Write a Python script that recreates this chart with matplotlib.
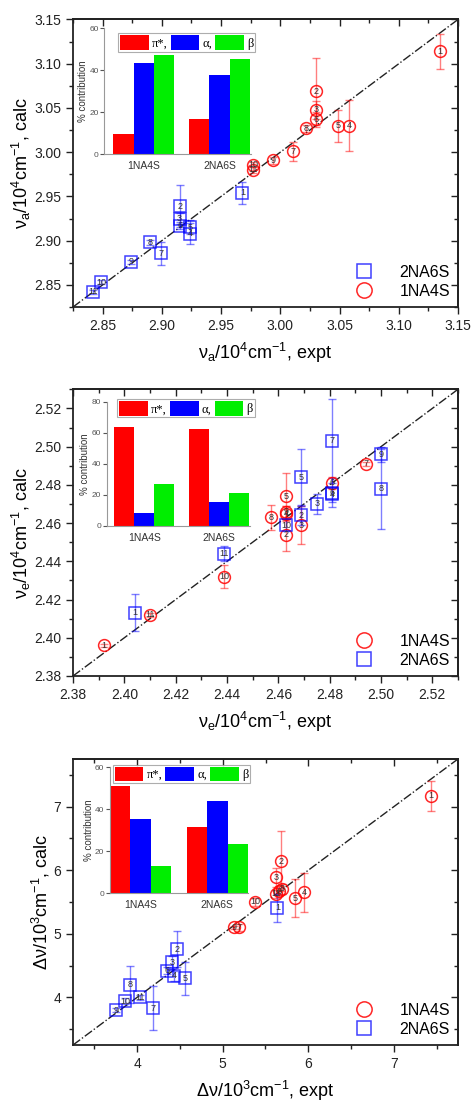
import numpy as np
import matplotlib
matplotlib.use('Agg')
import matplotlib.pyplot as plt
from matplotlib.ticker import MultipleLocator, FormatStrFormatter
from matplotlib.lines import Line2D

plt.rcParams['font.family'] = ['Liberation Sans', 'DejaVu Sans']
plt.rcParams['mathtext.default'] = 'regular'

# --- panel a: nu_a (10^4 cm-1) ---
a_4s_lbl = [1, 2, 3, 4, 5, 6, 7, 8, 9, 10, 11]
a_4s_x = [3.135, 3.030, 3.030, 3.058, 3.049, 3.030, 3.011, 3.022, 2.994, 2.977, 2.977]
a_4s_y = [3.114, 3.069, 3.048, 3.030, 3.030, 3.037, 3.001, 3.027, 2.991, 2.986, 2.980]
a_4s_err = [0.020, 0.038, 0.010, 0.029, 0.018, 0.008, 0.011, 0.004, 0.004, 0.003, 0.003]
a_6s_lbl = [1, 2, 3, 4, 5, 6, 7, 8, 9, 10, 11]
a_6s_x = [2.968, 2.915, 2.915, 2.924, 2.924, 2.915, 2.899, 2.890, 2.874, 2.849, 2.842]
a_6s_y = [2.954, 2.939, 2.925, 2.908, 2.915, 2.917, 2.886, 2.898, 2.876, 2.853, 2.842]
a_6s_err = [0.0125, 0.024, 0.006, 0.012, 0.008, 0.004, 0.013, 0.003, 0.002, 0.002, 0.002]

# --- panel b: nu_e (10^4 cm-1) ---
e_4s_lbl = [1, 2, 3, 4, 5, 6, 7, 8, 9, 10, 11]
e_4s_x = [2.392, 2.463, 2.469, 2.463, 2.463, 2.481, 2.494, 2.457, 2.463, 2.439, 2.410]
e_4s_y = [2.396, 2.454, 2.459, 2.465, 2.474, 2.481, 2.491, 2.463, 2.466, 2.432, 2.412]
e_4s_err = [0.001, 0.0084, 0.0097, 0.004, 0.012, 0.003, 0.001, 0.0066, 0.003, 0.006, 0.001]
e_6s_lbl = [1, 2, 3, 4, 5, 6, 7, 8, 9, 10, 11]
e_6s_x = [2.404, 2.469, 2.475, 2.481, 2.469, 2.481, 2.481, 2.500, 2.500, 2.463, 2.439]
e_6s_y = [2.413, 2.464, 2.470, 2.475, 2.484, 2.476, 2.503, 2.478, 2.496, 2.459, 2.444]
e_6s_err = [0.0097, 0.005, 0.005, 0.004, 0.0146, 0.0075, 0.022, 0.021, 0.004, 0.003, 0.004]

# --- panel c: delta nu (10^3 cm-1) ---
d_4s_lbl = [1, 2, 3, 4, 5, 6, 7, 8, 9, 10, 11]
d_4s_x = [7.43, 5.68, 5.62, 5.95, 5.85, 5.66, 5.19, 5.69, 5.13, 5.38, 5.62]
d_4s_y = [7.17, 6.14, 5.89, 5.65, 5.56, 5.67, 5.10, 5.71, 5.10, 5.50, 5.63]
d_4s_err = [0.24, 0.47, 0.15, 0.30, 0.30, 0.08, 0.05, 0.08, 0.03, 0.07, 0.06]
d_6s_lbl = [1, 2, 3, 4, 5, 6, 7, 8, 9, 10, 11]
d_6s_x = [5.64, 4.47, 4.41, 4.43, 4.56, 4.35, 4.19, 3.92, 3.75, 3.86, 4.03]
d_6s_y = [5.41, 4.76, 4.55, 4.34, 4.30, 4.42, 3.83, 4.20, 3.80, 3.94, 4.00]
d_6s_err = [0.22, 0.29, 0.10, 0.08, 0.26, 0.05, 0.35, 0.29, 0.03, 0.05, 0.04]

# --- inset bars: % contribution ---
groups = ['1NA4S', '2NA6S']
a_pi = [9.4, 16.7]
a_alpha = [43.3, 37.7]
a_beta = [47.1, 45.4]
e_pi = [63.7, 62.4]
e_alpha = [8.6, 15.5]
e_beta = [27.0, 21.5]
d_pi = [51.1, 31.7]
d_alpha = [35.4, 44.1]
d_beta = [13.2, 23.3]

W, H = 472, 1104
fig = plt.figure(figsize=(W / 100, H / 100), dpi=100)


def fr(l, t, r, b):
    return [l / W, 1 - b / H, (r - l) / W, (b - t) / H]


def series(ax, x, y, err, lbl, kind):
    if kind == 'c':
        ax.errorbar(x, y, yerr=err, fmt='none', ecolor=(1, 0, 0, 0.5), elinewidth=1, capsize=3, capthick=1, zorder=2)
        ax.plot(x, y, 'o', mfc='none', mec=(1, 0, 0, 0.85), ms=8.5, mew=1.1, zorder=3)
    else:
        ax.errorbar(x, y, yerr=err, fmt='none', ecolor=(0, 0, 1, 0.5), elinewidth=1, capsize=3, capthick=1, zorder=2)
        ax.plot(x, y, 's', mfc='none', mec=(0, 0, 1, 0.75), ms=8, mew=1.1, zorder=3)
    for xi, yi, li in zip(x, y, lbl):
        ax.text(xi, yi, str(li), ha='center', va='center', fontsize=6.5, color='#333333', zorder=4)


def main_axes(rect, lim, major, minor, fmt, xlab, ylab):
    ax = fig.add_axes(rect)
    ax.set_xlim(lim)
    ax.set_ylim(lim)
    for s in ax.spines.values():
        s.set_linewidth(1.3)
        s.set_color('#222222')
    for axis in (ax.xaxis, ax.yaxis):
        axis.set_major_locator(MultipleLocator(major))
        axis.set_minor_locator(MultipleLocator(minor))
        axis.set_major_formatter(FormatStrFormatter(fmt))
    ax.tick_params(which='major', direction='out', length=5, width=1, labelsize=10, colors='#222222')
    ax.tick_params(which='minor', direction='out', length=3, width=1, colors='#222222')
    sx = ax.secondary_xaxis('top')
    sy = ax.secondary_yaxis('right')
    for sa, axis in ((sx, sx.xaxis), (sy, sy.yaxis)):
        axis.set_major_locator(MultipleLocator(major))
        axis.set_minor_locator(MultipleLocator(minor))
        sa.tick_params(which='major', direction='in', length=5, width=1, colors='#222222',
                       labeltop=False, labelright=False)
        sa.tick_params(which='minor', direction='in', length=3, width=1, colors='#222222')
        for s in sa.spines.values():
            s.set_linewidth(1.3)
            s.set_color('#222222')
    ax.axline((lim[0], lim[0]), slope=1, color='#222222', lw=1, ls='-.', zorder=1)
    ax.set_xlabel(xlab, fontsize=13, labelpad=6)
    ax.set_ylabel(ylab, fontsize=13, labelpad=1)
    return ax


def inset(rect, xlim, ymax, pi, al, be, anchor):
    ia = fig.add_axes(rect)
    ia.patch.set_alpha(0)
    pos = np.arange(len(groups))
    w = 0.268
    ia.bar(pos - w, pi, w, color='#ff0000', label='π*,')
    ia.bar(pos, al, w, color='#0000ff', label='α,')
    ia.bar(pos + w, be, w, color='#00ee00', label='β')
    ia.set_xlim(xlim)
    ia.set_ylim(0, ymax)
    ia.yaxis.set_major_locator(MultipleLocator(20))
    ia.set_xticks(pos)
    ia.set_xticklabels(groups)
    ia.tick_params(axis='x', length=0, labelsize=7.5, pad=5, colors='#333333')
    ia.tick_params(axis='y', length=3, width=0.8, labelsize=6, pad=1, colors='#555555')
    for s in ('top', 'right'):
        ia.spines[s].set_visible(False)
    for s in ('left', 'bottom'):
        ia.spines[s].set_color('#999999')
        ia.spines[s].set_linewidth(0.8)
    ia.set_ylabel('% contribution', fontsize=7, labelpad=1, color='#333333')
    leg = ia.legend(loc='upper left', bbox_to_anchor=anchor, ncol=3, frameon=True, fancybox=False,
                    edgecolor='#999999', handlelength=2.3, handleheight=1.4, handletextpad=0.25,
                    columnspacing=0.25, borderpad=0.15, borderaxespad=0,
                    prop={'family': 'Liberation Serif', 'size': 9})
    leg.get_frame().set_linewidth(0.8)
    return ia


def main_legend(ax, order):
    h_c = Line2D([], [], ls='none', marker='o', mfc='none', mec=(1, 0, 0, 0.85), ms=11, mew=1.1)
    h_s = Line2D([], [], ls='none', marker='s', mfc='none', mec=(0, 0, 1, 0.75), ms=10, mew=1.1)
    hs = {'1NA4S': h_c, '2NA6S': h_s}
    ax.legend([hs[k] for k in order], order, loc='lower right', frameon=False, fontsize=11.5,
              handletextpad=1.2, labelspacing=0.25, borderaxespad=0.1, bbox_to_anchor=(1.0, 0.0))


# panel a
ax1 = main_axes(fr(73, 19.5, 458, 307), (2.825, 3.15), 0.05, 0.025, '%.2f',
                'ν$_a$/10$^4$cm$^{-1}$, expt', 'ν$_a$/10$^4$cm$^{-1}$, calc')
series(ax1, a_6s_x, a_6s_y, a_6s_err, a_6s_lbl, 's')
series(ax1, a_4s_x, a_4s_y, a_4s_err, a_4s_lbl, 'c')
main_legend(ax1, ['2NA6S', '1NA4S'])
inset(fr(104.3, 28.3, 250.5, 154), (-0.521, 1.408), 60, a_pi, a_alpha, a_beta, (0.094, 0.96))

# panel b
ax2 = main_axes(fr(73, 389.3, 458, 676), (2.38, 2.53), 0.02, 0.01, '%.2f',
                'ν$_e$/10$^4$cm$^{-1}$, expt', 'ν$_e$/10$^4$cm$^{-1}$, calc')
series(ax2, e_4s_x, e_4s_y, e_4s_err, e_4s_lbl, 'c')
series(ax2, e_6s_x, e_6s_y, e_6s_err, e_6s_lbl, 's')
main_legend(ax2, ['1NA4S', '2NA6S'])
inset(fr(106.7, 401.7, 250, 526), (-0.5, 1.41), 80, e_pi, e_alpha, e_beta, (0.074, 1.02))

# panel c
ax3 = main_axes(fr(73, 759, 458, 1045), (3.25, 7.75), 1, 0.5, '%d',
                'Δν/10$^3$cm$^{-1}$, expt', 'Δν/10$^3$cm$^{-1}$, calc')
series(ax3, d_4s_x, d_4s_y, d_4s_err, d_4s_lbl, 'c')
series(ax3, d_6s_x, d_6s_y, d_6s_err, d_6s_lbl, 's')
main_legend(ax3, ['1NA4S', '2NA6S'])
inset(fr(110, 767.3, 248, 893.3), (-0.40, 1.40), 60, d_pi, d_alpha, d_beta, (0.02, 1.02))

fig.savefig('out.png', dpi=100)
